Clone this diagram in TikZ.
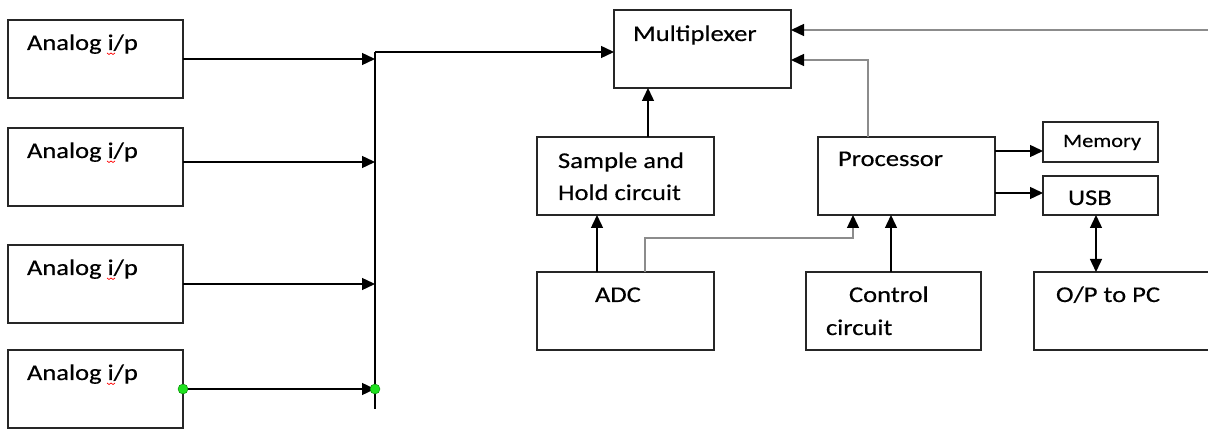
\documentclass[tikz,border=0pt]{standalone}
\usepackage{fontspec}
\setmainfont{Carlito}[FakeStretch=1.18,FakeBold=0.4]
\usetikzlibrary{arrows.meta,calc}
\definecolor{edge}{HTML}{262626}
\definecolor{wire}{HTML}{8C8C8C}
\definecolor{dotgreen}{RGB}{30,225,30}
\tikzset{
  blk/.style={draw=edge, line width=1.4pt, inner sep=0pt, outer sep=0pt,
              anchor=north west, minimum width=#1},
  lbl/.style={anchor=base west, inner sep=0pt, outer sep=0pt,
              font=\fontsize{22.5}{27}\selectfont},
  small/.style={lbl, font=\fontsize{19}{23}\selectfont},
  tip/.style={Triangle[length=13pt,width=12pt]},
  arr/.style={draw=black, line width=1.4pt, -{Triangle[length=13pt,width=12pt]}},
  darr/.style={draw=black, line width=1.4pt, {Triangle[length=13pt,width=12pt]}-{Triangle[length=13pt,width=12pt]}},
  garr/.style={draw=wire, line width=1.4pt, -{Triangle[length=13pt,width=12pt,color=black]}},
  jdot/.style={circle, draw=green!50!black, line width=0.4pt, fill=dotgreen, minimum size=10pt, inner sep=0pt},
  squig/.style={draw=red, line width=0.7pt}
}
\begin{document}
\begin{tikzpicture}[x=1pt,y=-1pt]
\useasboundingbox (0,0) rectangle (1208,430);
\clip (0,0) rectangle (1208,430);
\fill[white] (0,0) rectangle (1208,430);

% analog input blocks
\foreach \n/\t in {1/20,2/128,3/245,4/350}{
  \node[blk=175pt, minimum height=78pt] (a\n) at (8,\t) {};
  \node[lbl] (ta\n) at ($(a\n.north west)+(19,30)$) {Analog i/p};
  \draw[squig] ($(ta\n.base west)+(80,3)$) -- ++(2,1.5) -- ++(2,-1.5) -- ++(2,1.5) -- ++(2,-1.5);
}

% processing chain
\node[blk=177pt, minimum height=78pt] (mux)  at (614,10)  {};
\node[blk=177pt, minimum height=78pt] (sh)   at (537,137) {};
\node[blk=177pt, minimum height=78pt] (adc)  at (537,272) {};
\node[blk=177pt, minimum height=78pt] (proc) at (818,137) {};
\node[blk=175pt, minimum height=78pt] (ctrl) at (806,272) {};
\node[blk=115pt, minimum height=40pt] (mem)  at (1043,122) {};
\node[blk=115pt, minimum height=39pt] (usb)  at (1043,176) {};
\node[blk=190pt, minimum height=78pt] (op)   at (1034,272) {};

% block captions
\node[lbl] (tmux)  at (633,41)  {Multiplexer};
\node[lbl] (tsh1)  at (558,168) {Sample and};
\node[lbl] (tsh2)  at (558,200) {Hold circuit};
\node[lbl] (tadc)  at (595,302) {ADC};
\node[lbl] (tproc) at (838,166) {Processor};
\node[lbl] (tctl1) at (849,302) {Control};
\node[lbl] (tctl2) at (826,335) {circuit};
\node[small] (tmem) at (1063,147) {Memory};
\node[lbl] (tusb)  at (1068,205) {USB};
\node[lbl] (top)   at (1056,302) {O/P to PC};

% input bus
\coordinate (bustop) at (375,52);
\coordinate (busbot) at (375,409);
\draw[draw=black, line width=1.4pt] (bustop) -- (busbot);
\draw[arr] (a1.east) -- (a1.east -| bustop);
\draw[arr] ([yshift=5pt]a2.east) -- ([yshift=5pt]a2.east -| bustop);
\draw[arr] (a3.east) -- (a3.east -| bustop);
\draw[arr] (a4.east) -- (a4.east -| bustop);
\draw[arr] (bustop) -- (bustop -| mux.west);
\node[jdot] (j1) at (a4.east) {};
\node[jdot] (j2) at (a4.east -| bustop) {};

% feed into the multiplexer
\coordinate (ext) at (1212,30);
\draw[garr] (ext) -- (ext -| mux.east);
\draw[garr] ($(proc.north west)+(50,0)$) |- ($(mux.north east)+(0,50)$);
\draw[arr] ($(sh.north west)+(111,0)$) coordinate (shup) -- (shup |- mux.south);

% converter and control paths
\draw[arr] ($(adc.north west)+(60,0)$) coordinate (adcup) -- (adcup |- sh.south);
\draw[garr] ($(adc.north west)+(108,0)$) |- ($(proc.south west)+(35,23)$) -- ($(proc.south west)+(35,0)$);
\draw[arr] ($(ctrl.north west)+(85,0)$) coordinate (ctlup) -- (ctlup |- proc.south);

% outputs
\draw[arr] ($(proc.north east)+(0,14)$) coordinate (pm) -- (pm -| mem.west);
\draw[arr] ($(proc.north east)+(0,56)$) coordinate (pu) -- (pu -| usb.west);
\draw[darr] ($(usb.south west)+(53,0)$) coordinate (uo) -- (uo |- op.north);
\end{tikzpicture}
\end{document}
